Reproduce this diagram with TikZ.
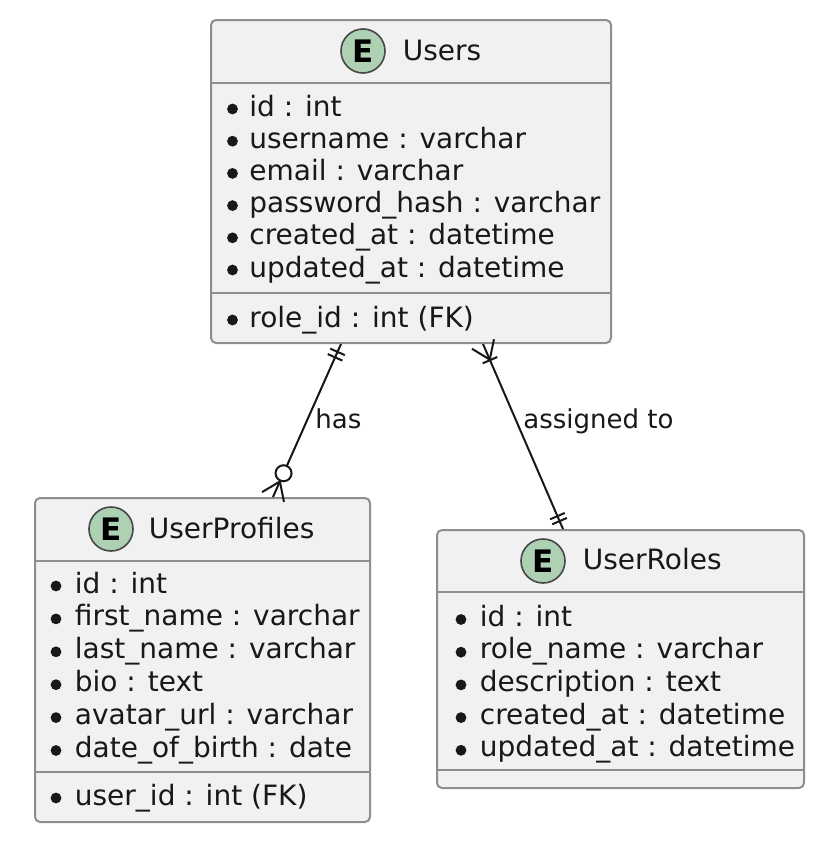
\documentclass[tikz,border=0pt]{standalone}
\usepackage{fontspec}
\setmainfont{DejaVu Sans}
\usetikzlibrary{calc}
\definecolor{boxfill}{HTML}{F1F1F1}
\definecolor{boxline}{HTML}{8E8E8E}
\definecolor{spotfill}{HTML}{ADD1B2}
\definecolor{ink}{HTML}{181818}
\newcommand{\erbar}[3]{\path ($(#1)!#3!(#2)$) coordinate (t);
	\draw[rel] ($(t)!4pt!90:(#2)$) -- ($(t)!4pt!-90:(#2)$);}
\newcommand{\ercrow}[2]{\path ($(#1)!8.5pt!(#2)$) coordinate (t);
	\draw[rel] ($(#1)!6pt!90:(#2)$) -- (t) -- ($(#1)!6pt!-90:(#2)$);}
\newcommand{\erring}[2]{\path ($(#1)!13pt!(#2)$) coordinate (t);
	\draw[rel,fill=white] (t) circle (4pt);}

\begin{document}
\begin{tikzpicture}[x=0.5pt,y=-0.5pt,
		entity/.style={draw=boxline,fill=boxfill,line width=1pt,rounded corners=2.5pt,anchor=north west,inner sep=0pt},
		sep/.style={draw=boxline,line width=1pt},
		spot/.style={circle,draw=ink!80,fill=spotfill,line width=0.8pt,minimum size=22pt,inner sep=0pt,font=\fontsize{15.5pt}{16pt}\selectfont\bfseries},
		txt/.style={anchor=base west,inner sep=0pt,text=ink,font=\fontsize{14pt}{16pt}\selectfont},
		lbl/.style={txt,font=\fontsize{13pt}{15pt}\selectfont},
		rel/.style={draw=ink,line width=1pt}]
	\path[use as bounding box,fill=white] (0,0) rectangle (832,846);

	\node[entity,minimum width=200pt,minimum height=161.5pt] (U) at (210,19) {};
	\node[spot] (UE) at (363,51) {E};
	\node[txt] (UT) at (402.5,60) {Users};
	\draw[sep] (U.west |- 0,82.5) -- (U.east |- 0,82.5);
	\draw[sep] (U.west |- 0,293) -- (U.east |- 0,293);
	\foreach \t [count=\i] in {id : int, username : varchar, email : varchar, password\_hash : varchar, created\_at : datetime, updated\_at : datetime}{
		\node[txt] (U\i) at (249,{116+32.2*(\i-1)}) {\t};
		\fill[ink] ($(U\i.base west)+(-16.5,-7)$) circle (2.7pt);
	}
	\node[txt] (UF) at (249,327) {role\_id : int (FK)};
	\fill[ink] ($(UF.base west)+(-16.5,-7)$) circle (2.7pt);

	\node[entity,minimum width=167.5pt,minimum height=162pt] (P) at (34,497) {};
	\node[spot] (PE) at (111,529) {E};
	\node[txt] (PT) at (148.5,538) {UserProfiles};
	\draw[sep] (P.west |- 0,561) -- (P.east |- 0,561);
	\draw[sep] (P.west |- 0,772) -- (P.east |- 0,772);
	\foreach \t [count=\i] in {id : int, first\_name : varchar, last\_name : varchar, bio : text, avatar\_url : varchar, date\_of\_birth : date}{
		\node[txt] (P\i) at (74.5,{593+32.9*(\i-1)}) {\t};
		\fill[ink] ($(P\i.base west)+(-18.5,-7)$) circle (2.7pt);
	}
	\node[txt] (PF) at (74.5,805) {user\_id : int (FK)};
	\fill[ink] ($(PF.base west)+(-18.5,-7)$) circle (2.7pt);

	\node[entity,minimum width=183.5pt,minimum height=129pt] (R) at (436,529) {};
	\node[spot] (RE) at (543,561) {E};
	\node[txt] (RT) at (582.5,569) {UserRoles};
	\draw[sep] (R.west |- 0,592) -- (R.east |- 0,592);
	\draw[sep] (R.west |- 0,770) -- (R.east |- 0,770);
	\foreach \t [count=\i] in {id : int, role\_name : varchar, description : text, created\_at : datetime, updated\_at : datetime}{
		\node[txt] (R\i) at (479.5,{626+32.7*(\i-1)}) {\t};
		\fill[ink] ($(R\i.base west)+(-18.5,-6.5)$) circle (2.7pt);
	}

	\coordinate (a) at ($(U.south west)+(131,0)$);
	\coordinate (b) at ($(P.north west)+(239,0)$);
	\draw[rel] (a) -- (b);
	\erbar{a}{b}{4.3pt}
	\erbar{a}{b}{7.3pt}
	\erring{b}{a}
	\ercrow{b}{a}
	\node[lbl] (L1) at (315,428) {has};

	\coordinate (c) at ($(U.south west)+(273,0)$);
	\coordinate (d) at ($(R.north west)+(127,0)$);
	\draw[rel] (c) -- (d);
	\ercrow{c}{d}
	\erbar{c}{d}{8.8pt}
	\erbar{d}{c}{4.3pt}
	\erbar{d}{c}{7pt}
	\node[lbl] (L2) at (523,428) {assigned to};
\end{tikzpicture}
\end{document}
